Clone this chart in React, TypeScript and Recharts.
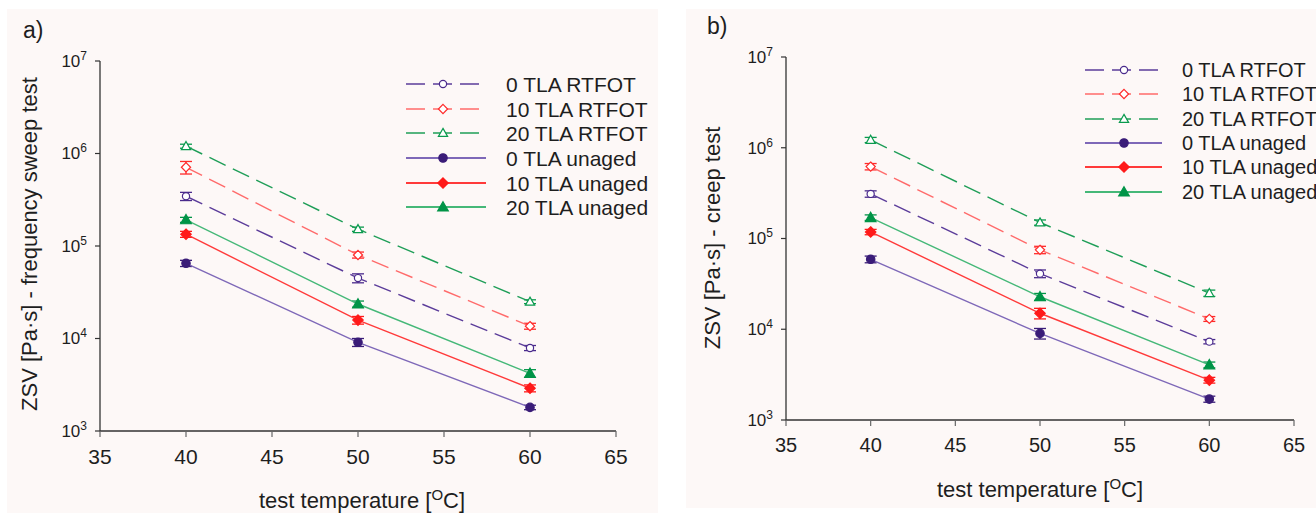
import { LineChart, Line, XAxis, YAxis, ErrorBar } from 'recharts';

const temperatures = [40, 50, 60];
const xTicks = [35, 40, 45, 50, 55, 60, 65];
const yTicks = [1e3, 1e4, 1e5, 1e6, 1e7];

// zero shear viscosity from the frequency sweep test [Pa·s]
const fsRtfot0 = [3.45e5, 4.5e4, 7.9e3];
const fsRtfot10 = [7.1e5, 8.0e4, 1.36e4];
const fsRtfot20 = [1.2e6, 1.52e5, 2.5e4];
const fsUnaged0 = [6.5e4, 9.1e3, 1.8e3];
const fsUnaged10 = [1.34e5, 1.58e4, 2.9e3];
const fsUnaged20 = [1.92e5, 2.36e4, 4.2e3];

const fsRtfot0Err = [3.5e4, 5e3, 5e2];
const fsRtfot10Err = [1.1e5, 6e3, 1e3];
const fsRtfot20Err = [6e4, 8e3, 1.2e3];
const fsUnaged0Err = [5e3, 9e2, 1e2];
const fsUnaged10Err = [1e4, 1.5e3, 2.5e2];
const fsUnaged20Err = [1.2e4, 1.8e3, 4e2];

// zero shear viscosity from the creep test [Pa·s]
const crRtfot0 = [3.1e5, 4.1e4, 7.3e3];
const crRtfot10 = [6.2e5, 7.5e4, 1.3e4];
const crRtfot20 = [1.22e6, 1.5e5, 2.5e4];
const crUnaged0 = [5.9e4, 9.0e3, 1.7e3];
const crUnaged10 = [1.18e5, 1.5e4, 2.75e3];
const crUnaged20 = [1.7e5, 2.28e4, 4.05e3];

const crRtfot0Err = [2.5e4, 4e3, 4e2];
const crRtfot10Err = [5e4, 7e3, 8e2];
const crRtfot20Err = [8e4, 1e4, 2e3];
const crUnaged0Err = [5e3, 1.2e3, 1.3e2];
const crUnaged10Err = [8e3, 2e3, 2e2];
const crUnaged20Err = [1.2e4, 2e3, 3e2];

type Shape = 'circle' | 'diamond' | 'triangle';

interface Series {
  key: string;
  name: string;
  line: string;
  mark: string;
  dashed: boolean;
  shape: Shape;
  filled: boolean;
}

const series: Series[] = [
  { key: 'r0', name: '0 TLA RTFOT', line: '#5b3c9a', mark: '#4a2a8c', dashed: true, shape: 'circle', filled: false },
  { key: 'r10', name: '10 TLA RTFOT', line: '#ff6b6b', mark: '#ff2a2a', dashed: true, shape: 'diamond', filled: false },
  { key: 'r20', name: '20 TLA RTFOT', line: '#1f9e58', mark: '#0a9a4e', dashed: true, shape: 'triangle', filled: false },
  { key: 'u0', name: '0 TLA unaged', line: '#7e68b8', mark: '#3a1c78', dashed: false, shape: 'circle', filled: true },
  { key: 'u10', name: '10 TLA unaged', line: '#ff3a3a', mark: '#ff1a1a', dashed: false, shape: 'diamond', filled: true },
  { key: 'u20', name: '20 TLA unaged', line: '#45b878', mark: '#009447', dashed: false, shape: 'triangle', filled: true },
];

const DASH = '18 8';
const FONT = '"Liberation Sans", Arial, sans-serif';
const TEXT = '#1e1e1e';
const AXIS = '#333';
const PANEL_BG = '#fdf8f7';

function buildRows(values: number[][], errors: number[][]) {
  return temperatures.map((t, i) => {
    const row: Record<string, number> = { t };
    series.forEach((s, j) => {
      row[s.key] = values[j][i];
      row[`${s.key}Err`] = errors[j][i];
    });
    return row;
  });
}

const sweepRows = buildRows(
  [fsRtfot0, fsRtfot10, fsRtfot20, fsUnaged0, fsUnaged10, fsUnaged20],
  [fsRtfot0Err, fsRtfot10Err, fsRtfot20Err, fsUnaged0Err, fsUnaged10Err, fsUnaged20Err]
);

const creepRows = buildRows(
  [crRtfot0, crRtfot10, crRtfot20, crUnaged0, crUnaged10, crUnaged20],
  [crRtfot0Err, crRtfot10Err, crRtfot20Err, crUnaged0Err, crUnaged10Err, crUnaged20Err]
);

function Marker({ x, y, s }: { x: number; y: number; s: Series }) {
  const fill = s.filled ? s.mark : '#fff';
  if (s.shape === 'circle') {
    return <circle cx={x} cy={y} r={s.filled ? 4.2 : 3.6} fill={fill} stroke={s.mark} strokeWidth={1.2} />;
  }
  if (s.shape === 'diamond') {
    const d = s.filled ? 5.2 : 4.6;
    return (
      <polygon
        points={`${x},${y - d} ${x + d},${y} ${x},${y + d} ${x - d},${y}`}
        fill={fill}
        stroke={s.mark}
        strokeWidth={1.2}
      />
    );
  }
  const h = s.filled ? 5.3 : 4.6;
  return (
    <polygon
      points={`${x},${y - h} ${x + h},${y + h * 0.75} ${x - h},${y + h * 0.75}`}
      fill={fill}
      stroke={s.mark}
      strokeWidth={1.2}
    />
  );
}

function XTick({ x, y, payload, fontSize }: any) {
  return (
    <text x={x} y={y} dy="0.71em" textAnchor="middle" fontSize={fontSize} fill={TEXT} fontFamily={FONT}>
      {payload.value}
    </text>
  );
}

function YTick({ x, y, payload }: any) {
  const exp = Math.round(Math.log10(payload.value));
  return (
    <text x={x} y={y} dy="0.35em" textAnchor="end" fontSize={17} fill={TEXT} fontFamily={FONT}>
      <tspan>10</tspan>
      <tspan dy={-7} fontSize={12}>
        {exp}
      </tspan>
    </text>
  );
}

interface PanelProps {
  left: number;
  width: number;
  margin: { top: number; right: number; bottom: number; left: number };
  rows: Record<string, number>[];
  xFont: number;
}

function Panel({ left, width, margin, rows, xFont }: PanelProps) {
  return (
    <div style={{ position: 'absolute', left, top: 0 }}>
      <LineChart width={width} height={513} data={rows} margin={margin}>
        <XAxis
          dataKey="t"
          type="number"
          domain={[35, 65]}
          ticks={xTicks}
          interval={0}
          height={30}
          tickSize={6}
          tickMargin={12}
          stroke={AXIS}
          axisLine={{ stroke: AXIS, strokeWidth: 1.3 }}
          tickLine={{ stroke: '#666', strokeWidth: 1.2 }}
          tick={(p: any) => <XTick {...p} fontSize={xFont} />}
        />
        <YAxis
          type="number"
          scale="log"
          domain={[1e3, 1e7]}
          ticks={yTicks}
          interval={0}
          allowDataOverflow
          width={60}
          tickSize={5}
          tickMargin={8}
          stroke={AXIS}
          axisLine={{ stroke: AXIS, strokeWidth: 1.3 }}
          tickLine={{ stroke: AXIS, strokeWidth: 1.2 }}
          tick={(p: any) => <YTick {...p} />}
        />
        {series.map((s) => (
          <Line
            key={s.key}
            type="linear"
            dataKey={s.key}
            name={s.name}
            stroke={s.line}
            strokeWidth={1.4}
            strokeDasharray={s.dashed ? DASH : undefined}
            dot={(p: any) => (
              <g key={`${s.key}-${p.index}`}>
                <Marker x={p.cx} y={p.cy} s={s} />
              </g>
            )}
            activeDot={false}
            isAnimationActive={false}
          >
            <ErrorBar dataKey={`${s.key}Err`} direction="y" width={6} stroke={s.mark} strokeWidth={1.3} />
          </Line>
        ))}
      </LineChart>
    </div>
  );
}

interface LegendProps {
  x0: number;
  solidEnd: number;
  dashEnd: number;
  markX: number;
  textX: number;
  rowY: number[];
  fontSize: number;
}

function LegendBox({ x0, solidEnd, dashEnd, markX, textX, rowY, fontSize }: LegendProps) {
  return (
    <g>
      {series.map((s, i) => (
        <g key={s.key}>
          <line
            x1={x0}
            x2={s.dashed ? dashEnd : solidEnd}
            y1={rowY[i]}
            y2={rowY[i]}
            stroke={s.line}
            strokeWidth={s.dashed ? 1.5 : 2.2}
            strokeDasharray={s.dashed ? '19 8' : undefined}
          />
          <Marker x={markX} y={rowY[i]} s={s} />
          <text x={textX} y={rowY[i]} dy="0.36em" fontSize={fontSize} fill={TEXT} fontFamily={FONT}>
            {s.name}
          </text>
        </g>
      ))}
    </g>
  );
}

function AxisTitle({ x, y, size }: { x: number; y: number; size: number }) {
  return (
    <text x={x} y={y} textAnchor="middle" fontSize={size} fill={TEXT} fontFamily={FONT}>
      test temperature [
      <tspan dy={-8} fontSize={15}>
        O
      </tspan>
      <tspan dy={8}>C]</tspan>
    </text>
  );
}

export default function App() {
  return (
    <div
      style={{
        position: 'absolute',
        left: 0,
        top: 0,
        width: 1316,
        height: 513,
        background: '#fff',
        overflow: 'hidden',
        fontFamily: FONT,
      }}
    >
      <div style={{ position: 'absolute', left: 7, top: 9, width: 651, height: 504, background: PANEL_BG }} />
      <div style={{ position: 'absolute', left: 686, top: 9, width: 630, height: 499, background: PANEL_BG }} />

      <Panel left={0} width={670} margin={{ top: 61, right: 54, bottom: 52, left: 40 }} rows={sweepRows} xFont={21} />
      <Panel left={680} width={636} margin={{ top: 57, right: 22, bottom: 63, left: 46 }} rows={creepRows} xFont={20} />

      <svg width={1316} height={513} style={{ position: 'absolute', left: 0, top: 0, pointerEvents: 'none' }}>
        <text x={23} y={38} fontSize={23} fill={TEXT} fontFamily={FONT}>
          a)
        </text>
        <text x={707} y={34} fontSize={23} fill={TEXT} fontFamily={FONT}>
          b)
        </text>

        <text
          x={29}
          y={244}
          dy="0.35em"
          transform="rotate(-90 29 244)"
          textAnchor="middle"
          fontSize={22}
          fill={TEXT}
          fontFamily={FONT}
        >
          ZSV [Pa·s] - frequency sweep test
        </text>
        <text
          x={712}
          y={238}
          dy="0.35em"
          transform="rotate(-90 712 238)"
          textAnchor="middle"
          fontSize={22}
          fill={TEXT}
          fontFamily={FONT}
        >
          ZSV [Pa·s] - creep test
        </text>

        <AxisTitle x={362} y={508} size={22} />
        <AxisTitle x={1040} y={497} size={22} />

        <LegendBox
          x0={406}
          solidEnd={486}
          dashEnd={485}
          markX={443}
          textX={506}
          rowY={[84, 109, 133, 158, 183, 207]}
          fontSize={21}
        />
        <LegendBox
          x0={1085}
          solidEnd={1162}
          dashEnd={1160}
          markX={1124}
          textX={1182}
          rowY={[70, 94, 119, 143, 167, 192]}
          fontSize={20}
        />
      </svg>
    </div>
  );
}
